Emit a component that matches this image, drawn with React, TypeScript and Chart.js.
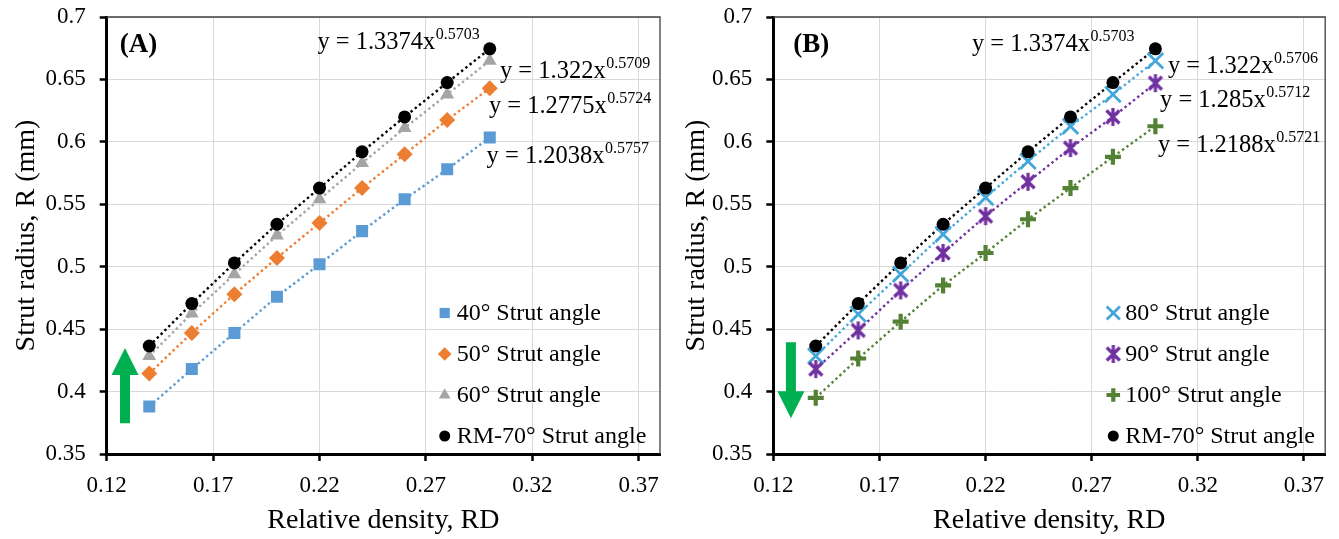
import React, { useEffect, useRef } from "react";
import { Chart, registerables } from "chart.js";
import { drawPoint } from "chart.js/helpers";

Chart.register(...registerables);

// ---------------- data ----------------
const RD = [0.14, 0.16, 0.18, 0.2, 0.22, 0.24, 0.26, 0.28, 0.3];
const R40 = [0.388, 0.418, 0.447, 0.476, 0.502, 0.5285, 0.554, 0.578, 0.6035];
const R50 = [0.4145, 0.447, 0.478, 0.507, 0.535, 0.563, 0.59, 0.6175, 0.643];
const R60 = [0.4285, 0.4625, 0.494, 0.525, 0.554, 0.583, 0.611, 0.638, 0.665];
const R70 = [0.4365, 0.4705, 0.503, 0.534, 0.563, 0.592, 0.62, 0.6475, 0.6745];
const R80 = [0.4285, 0.462, 0.494, 0.526, 0.5555, 0.5845, 0.6125, 0.638, 0.665];
const R90 = [0.418, 0.449, 0.481, 0.511, 0.5405, 0.568, 0.595, 0.62, 0.647];
const R100 = [0.395, 0.4265, 0.456, 0.485, 0.511, 0.538, 0.563, 0.588, 0.6125];

const X_TICKS = [0.12, 0.17, 0.22, 0.27, 0.32, 0.37];
const X_LABELS = ["0.12", "0.17", "0.22", "0.27", "0.32", "0.37"];
const Y_TICKS = [0.35, 0.4, 0.45, 0.5, 0.55, 0.6, 0.65, 0.7];
const Y_LABELS = ["0.35", "0.4", "0.45", "0.5", "0.55", "0.6", "0.65", "0.7"];

const LABELS_A = ["40° Strut angle", "50° Strut angle", "60° Strut angle", "RM-70° Strut angle"];
const LABELS_B = ["80° Strut angle", "90° Strut angle", "100° Strut angle", "RM-70° Strut angle"];
const EQ_A = [
  ["y = 1.3374x", "0.5703"],
  ["y = 1.322x", "0.5709"],
  ["y = 1.2775x", "0.5724"],
  ["y = 1.2038x", "0.5757"],
];
const EQ_B = [
  ["y = 1.3374x", "0.5703"],
  ["y = 1.322x", "0.5706"],
  ["y = 1.285x", "0.5712"],
  ["y = 1.2188x", "0.5721"],
];

const FONT = '"Liberation Serif", "Times New Roman", serif';

function makeAsterisk(color: string): HTMLCanvasElement {
  const c = document.createElement("canvas");
  c.width = 22;
  c.height = 22;
  const g = c.getContext("2d")!;
  g.strokeStyle = color;
  g.lineWidth = 3.2;
  g.beginPath();
  g.moveTo(11, 2);
  g.lineTo(11, 20);
  g.moveTo(4.5, 4.5);
  g.lineTo(17.5, 17.5);
  g.moveTo(17.5, 4.5);
  g.lineTo(4.5, 17.5);
  g.stroke();
  return c;
}

type Series = {
  label: string;
  data: number[];
  color: string;
  style: any;
  radius: number;
  lw: number;
};

type Panel = {
  left: number;
  width: number;
  chartLeft: number;
  chartRight: number;
  tag: string;
  tagDx: number;
  series: Series[];
  eqs: { t: string[]; x: number; y: number }[];
  arrow: { x: number; from: number; to: number };
  legendDx: number;
  legendDxText: number;
};

function buildPanels(): Panel[] {
  const star = makeAsterisk("#7030A0");
  const black: Series = { label: "", data: R70, color: "#000000", style: "circle", radius: 6.5, lw: 0 };
  return [
    {
      left: 0,
      width: 670,
      chartLeft: 106.7,
      chartRight: 660,
      tag: "(A)",
      tagDx: 13,
      series: [
        { label: LABELS_A[0], data: R40, color: "#5B9BD5", style: "rect", radius: 8.5, lw: 0 },
        { label: LABELS_A[1], data: R50, color: "#ED7D31", style: "rectRot", radius: 8, lw: 0 },
        { label: LABELS_A[2], data: R60, color: "#A5A5A5", style: "triangle", radius: 8, lw: 0 },
        { ...black, label: LABELS_A[3] },
      ],
      eqs: [
        { t: EQ_A[0], x: 0.219, y: 0.6744 },
        { t: EQ_A[1], x: 0.3048, y: 0.651 },
        { t: EQ_A[2], x: 0.2996, y: 0.623 },
        { t: EQ_A[3], x: 0.2985, y: 0.5834 },
      ],
      arrow: { x: 0.1286, from: 0.3747, to: 0.4348 },
      legendDx: 338,
      legendDxText: 350,
    },
    {
      left: 670,
      width: 669,
      chartLeft: 103.3,
      chartRight: 657.7,
      tag: "(B)",
      tagDx: 20,
      series: [
        { label: LABELS_B[0], data: R80, color: "#45A6D9", style: "crossRot", radius: 11, lw: 2.8 },
        { label: LABELS_B[1], data: R90, color: "#7030A0", style: star, radius: 9, lw: 0 },
        { label: LABELS_B[2], data: R100, color: "#548235", style: "cross", radius: 8, lw: 4.2 },
        { ...black, label: LABELS_B[3] },
      ],
      eqs: [
        { t: EQ_B[0], x: 0.2136, y: 0.6728 },
        { t: EQ_B[1], x: 0.3059, y: 0.6549 },
        { t: EQ_B[2], x: 0.3022, y: 0.6276 },
        { t: EQ_B[3], x: 0.3012, y: 0.592 },
      ],
      arrow: { x: 0.1283, from: 0.4396, to: 0.3787 },
      legendDx: 340,
      legendDxText: 352,
    },
  ];
}

function PanelChart({ p }: { p: Panel }) {
  const ref = useRef<HTMLCanvasElement | null>(null);
  useEffect(() => {
    const canvas = ref.current!;
    const datasets: any[] = [];
    p.series.forEach((s, i) => {
      datasets.push({
        label: s.label + " trend",
        data: RD.map((x, k) => ({ x, y: s.data[k] })),
        showLine: true,
        borderColor: s.color,
        borderWidth: 2.4,
        borderDash: [2.4, 3],
        pointRadius: 0,
        pointHoverRadius: 0,
        order: 20 + i,
      });
    });
    p.series.forEach((s, i) => {
      datasets.push({
        label: s.label,
        data: RD.map((x, k) => ({ x, y: s.data[k] })),
        showLine: false,
        pointStyle: s.style,
        pointRadius: s.radius,
        pointHoverRadius: s.radius,
        pointBackgroundColor: s.color,
        pointBorderColor: s.color,
        pointBorderWidth: s.lw,
        order: 4 - i,
      });
    });

    const annot = {
      id: "annot",
      afterDatasetsDraw(chart: any) {
        const ctx: CanvasRenderingContext2D = chart.ctx;
        const xs = chart.scales.x;
        const ys = chart.scales.y;
        const ca = chart.chartArea;
        ctx.save();
        // frame top/right
        ctx.strokeStyle = "#404040";
        ctx.lineWidth = 1.3;
        ctx.beginPath();
        ctx.moveTo(ca.left, ca.top);
        ctx.lineTo(ca.right, ca.top);
        ctx.lineTo(ca.right, ca.bottom);
        ctx.stroke();

        // equations
        ctx.fillStyle = "#000";
        ctx.textBaseline = "alphabetic";
        ctx.textAlign = "left";
        p.eqs.forEach((e) => {
          const px = xs.getPixelForValue(e.x);
          const py = ys.getPixelForValue(e.y);
          ctx.font = `24.5px ${FONT}`;
          ctx.fillText(e.t[0], px, py);
          const w = ctx.measureText(e.t[0]).width;
          ctx.font = `16px ${FONT}`;
          ctx.fillText(e.t[1], px + w + 0.5, py - 10);
        });

        // panel tag
        ctx.font = `bold 27px ${FONT}`;
        ctx.fillText(p.tag, ca.left + p.tagDx, ca.top + 35);

        // legend
        p.series.forEach((s, i) => {
          const ly = ca.top + 296 + i * 41;
          const lx = ca.left + p.legendDx;
          ctx.save();
          ctx.fillStyle = s.color;
          ctx.strokeStyle = s.color;
          ctx.lineWidth = s.lw;
          drawPoint(ctx, { pointStyle: s.style, radius: s.radius * 0.85, borderWidth: s.lw, rotation: 0 } as any, lx, ly);
          ctx.restore();
          ctx.fillStyle = "#000";
          ctx.font = `24px ${FONT}`;
          ctx.textBaseline = "middle";
          ctx.fillText(s.label, ca.left + p.legendDxText, ly + 1);
        });

        // arrow
        const ax = xs.getPixelForValue(p.arrow.x);
        const a0 = ys.getPixelForValue(p.arrow.from);
        const a1 = ys.getPixelForValue(p.arrow.to);
        const dir = a1 < a0 ? -1 : 1;
        const head = 27;
        const hw = 13.5;
        const sw = 5;
        const hb = a1 - dir * head;
        ctx.fillStyle = "#00B050";
        ctx.beginPath();
        ctx.moveTo(ax - sw, a0);
        ctx.lineTo(ax - sw, hb);
        ctx.lineTo(ax - hw, hb);
        ctx.lineTo(ax, a1);
        ctx.lineTo(ax + hw, hb);
        ctx.lineTo(ax + sw, hb);
        ctx.lineTo(ax + sw, a0);
        ctx.closePath();
        ctx.fill();
        ctx.restore();
      },
    };

    const chart = new Chart(canvas, {
      type: "scatter",
      data: { datasets },
      plugins: [annot],
      options: {
        animation: false,
        responsive: false,
        events: [],
        layout: { padding: { left: 0, top: 17, right: p.width - p.chartRight, bottom: 0 } },
        plugins: { legend: { display: false }, tooltip: { enabled: false } },
        scales: {
          x: {
            type: "linear",
            min: 0.12,
            max: 0.38,
            afterBuildTicks: (sc: any) => {
              sc.ticks = X_TICKS.map((v) => ({ value: v }));
            },
            afterFit: (sc: any) => {
              sc.height = 85;
              sc.paddingLeft = 0;
              sc.paddingRight = 0;
            },
            ticks: {
              callback: (_v: any, i: number) => X_LABELS[i],
              color: "#000",
              font: { family: FONT, size: 23 },
              padding: 11,
              maxRotation: 0,
              autoSkip: false,
            },
            grid: { color: "#D9D9D9", lineWidth: 1, tickColor: "#000", tickLength: 7, tickWidth: 2.5 },
            border: { color: "#000", width: 3 },
            title: {
              display: true,
              text: "Relative density, RD",
              color: "#000",
              font: { family: FONT, size: 28 },
              padding: { top: 0, bottom: 2 },
            },
          },
          y: {
            type: "linear",
            min: 0.35,
            max: 0.7,
            afterBuildTicks: (sc: any) => {
              sc.ticks = Y_TICKS.map((v) => ({ value: v }));
            },
            afterFit: (sc: any) => {
              sc.width = p.chartLeft;
              sc.paddingTop = 0;
              sc.paddingBottom = 0;
            },
            ticks: {
              callback: (_v: any, i: number) => Y_LABELS[i],
              color: "#000",
              font: { family: FONT, size: 23 },
              padding: 14,
              autoSkip: false,
            },
            grid: { color: "#D9D9D9", lineWidth: 1, tickColor: "#000", tickLength: 7, tickWidth: 2.5 },
            border: { color: "#000", width: 3 },
            title: {
              display: true,
              text: "Strut radius, R (mm)",
              color: "#000",
              font: { family: FONT, size: 28 },
              padding: { top: 10, bottom: 0 },
            },
          },
        },
      } as any,
    });
    return () => chart.destroy();
  }, [p]);
  return (
    <canvas
      ref={ref}
      width={p.width}
      height={539}
      style={{ position: "absolute", left: p.left, top: 0, width: p.width, height: 539 }}
    />
  );
}

const PANELS = buildPanels();

export default function App() {
  return (
    <div style={{ position: "fixed", left: 0, top: 0, width: 1339, height: 539, background: "#fff" }}>
      {PANELS.map((p) => (
        <PanelChart key={p.tag} p={p} />
      ))}
    </div>
  );
}
